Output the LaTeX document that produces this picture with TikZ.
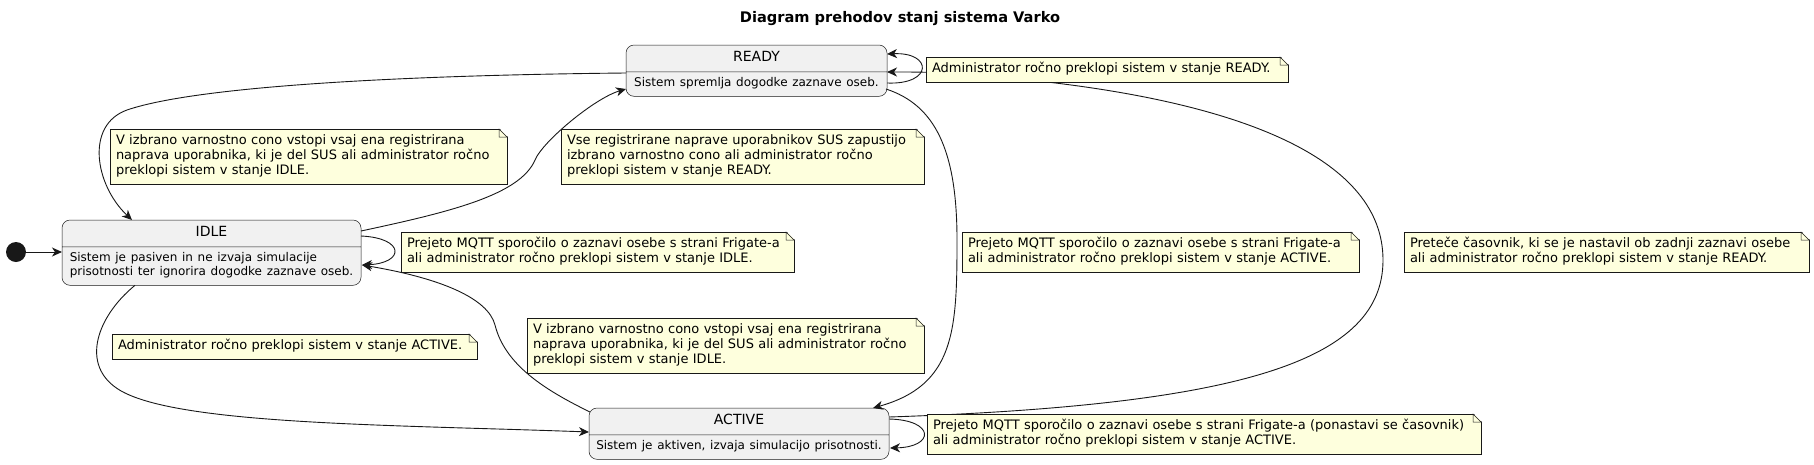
\documentclass[tikz,border=0pt]{standalone}
\usepackage{fontspec}
\setmainfont{DejaVu Sans}
\usetikzlibrary{calc}
\usetikzlibrary{shapes.multipart}
\usetikzlibrary{arrows.meta}

\definecolor{statefill}{HTML}{F1F1F1}
\definecolor{linecol}{HTML}{181818}
\definecolor{notefill}{HTML}{FEFFDD}

\newcommand{\namefont}{\fontsize{14}{16.3}\selectfont}
\newcommand{\descfont}{\fontsize{12}{14}\selectfont}
\newcommand{\notefont}{\fontsize{13}{15.1}\selectfont}

\begin{document}
\begin{tikzpicture}[x=1pt, y=-1pt]
		\tikzstyle{statebox} = [rectangle split, rectangle split parts=2, draw=linecol, line width=0.5pt, fill=statefill, rounded corners=8pt, inner xsep=5pt, inner ysep=5pt, outer sep=0pt, align=center, font=\namefont, anchor=north west]
		\tikzstyle{note} = [rectangle, draw=linecol, line width=0.5pt, fill=notefill, inner xsep=6pt, inner ysep=5pt, outer sep=0pt, align=left, font=\notefont, anchor=north west, execute at begin node=\strut, execute at end node=\strut]
		\tikzstyle{trans} = [draw=linecol, line width=0.9pt, -{Stealth[length=10pt, width=9pt, inset=3pt]}]
		
		\useasboundingbox (0,0) rectangle (1814,464);
		
		\node [font=\fontsize{14.6}{17}\selectfont\bfseries] (title) at (900,19) {Diagram prehodov stanj sistema Varko};
		
		\node [circle, fill=linecol, minimum size=20pt, inner sep=0pt] (start) at (16,252) {};
		
		\node [statebox, text width=251pt] (READY) at (626,45) {READY\strut \nodepart{two}\raggedright\descfont\strut Sistem spremlja dogodke zaznave oseb.\strut};
		\node [statebox, text width=289pt] (IDLE) at (62,220) {IDLE\strut \nodepart{two}\raggedright\descfont\begin{tabular}{@{}l@{}}Sistem je pasiven in ne izvaja simulacije\\ prisotnosti ter ignorira dogodke zaznave oseb.\end{tabular}};
		\node [statebox, text width=290pt] (ACTIVE) at (589,408) {ACTIVE\strut \nodepart{two}\raggedright\descfont\strut Sistem je aktiven, izvaja simulacijo prisotnosti.\strut};
		
		\draw [trans] (start) -- ($(IDLE.north west)+(0,32)$);
		\draw [trans] ($(READY.north west)+(0,28)$) .. controls (420,75) and (200,85) .. (127,110) .. controls (85,125) and (95,185) .. ($(IDLE.north west)+(70,0)$);
		\draw [trans] ($(IDLE.north east)+(0,11)$) .. controls (450,212) and (520,195) .. (535,160) .. controls (543,141) and (595,98) .. ($(READY.north west)+(0,44)$);
		\draw [trans] ($(IDLE.north east)+(0,16)$) .. controls (405,238) and (405,263) .. ($(IDLE.north east)+(1,45)$);
		\draw [trans] ($(IDLE.south west)+(73,0)$) .. controls (95,318) and (78,370) .. (125,393) .. controls (190,425) and (400,425) .. ($(ACTIVE.north west)+(0,24)$);
		\draw [trans] ($(ACTIVE.north west)+(1,4)$) .. controls (545,390) and (505,365) .. (495,325) .. controls (488,298) and (440,278) .. ($(IDLE.north east)+(1,45)$);
		\draw [trans] ($(READY.north east)+(-1,44)$) .. controls (935,105) and (957,150) .. (957,240) .. controls (957,330) and (955,385) .. ($(ACTIVE.north east)+(-16,0)$);
		\draw [trans] ($(ACTIVE.north east)+(0,9)$) .. controls (1245,405) and (1383,360) .. (1383,260) .. controls (1383,160) and (1245,105) .. (1047,82) .. controls (960,72) and (930,72) .. ($(READY.north east)+(0,27)$);
		\draw [trans] ($(ACTIVE.north east)+(0,11)$) .. controls (935,420) and (935,447) .. ($(ACTIVE.north east)+(1,40)$);
		\draw [trans] ($(READY.north east)+(0,38)$) .. controls (933,85) and (933,52) .. ($(READY.north east)+(0,9)$);
		
		\node [note, text width=385pt] (nReadyIdle) at (110,129) {V izbrano varnostno cono vstopi vsaj ena registrirana\\ naprava uporabnika, ki je del SUS ali administrator ročno\\ preklopi sistem v stanje IDLE.};
		\node [note, text width=351pt] (nIdleReady) at (561,129) {Vse registrirane naprave uporabnikov SUS zapustijo\\ izbrano varnostno cono ali administrator ročno\\ preklopi sistem v stanje READY.};
		\node [note, text width=381pt] (nIdleIdle) at (401,232) {Prejeto MQTT sporočilo o zaznavi osebe s strani Frigate-a\\ ali administrator ročno preklopi sistem v stanje IDLE.};
		\node [note, text width=353pt] (nIdleActive) at (112,334) {Administrator ročno preklopi sistem v stanje ACTIVE.};
		\node [note, text width=385pt] (nActiveIdle) at (527,318) {V izbrano varnostno cono vstopi vsaj ena registrirana\\ naprava uporabnika, ki je del SUS ali administrator ročno\\ preklopi sistem v stanje IDLE.};
		\node [note, text width=385pt] (nReadyActive) at (962,232) {Prejeto MQTT sporočilo o zaznavi osebe s strani Frigate-a\\ ali administrator ročno preklopi sistem v stanje ACTIVE.};
		\node [note, text width=393pt] (nActiveReady) at (1404,232) {Preteče časovnik, ki se je nastavil ob zadnji zaznavi osebe\\ ali administrator ročno preklopi sistem v stanje READY.};
		\node [note, text width=542pt] (nActiveActive) at (927,414) {Prejeto MQTT sporočilo o zaznavi osebe s strani Frigate-a (ponastavi se časovnik)\\ ali administrator ročno preklopi sistem v stanje ACTIVE.};
		\node [note, text width=350pt] (nReadyReady) at (926,57) {Administrator ročno preklopi sistem v stanje READY.};
		
		% folded corners of the notes
		\foreach \n in {nReadyIdle, nIdleReady, nIdleIdle, nIdleActive, nActiveIdle, nReadyActive, nActiveReady, nActiveActive, nReadyReady} {
			\fill [white] ($(\n.north east)+(-8,-1)$) -- ($(\n.north east)+(1,-1)$) -- ($(\n.north east)+(1,8)$) -- cycle;
			\draw [draw=linecol, line width=0.5pt, fill=notefill] ($(\n.north east)+(-8,0)$) -- ($(\n.north east)+(0,8)$) -- ($(\n.north east)+(-8,8)$) -- cycle;
		}
\end{tikzpicture}
\end{document}
